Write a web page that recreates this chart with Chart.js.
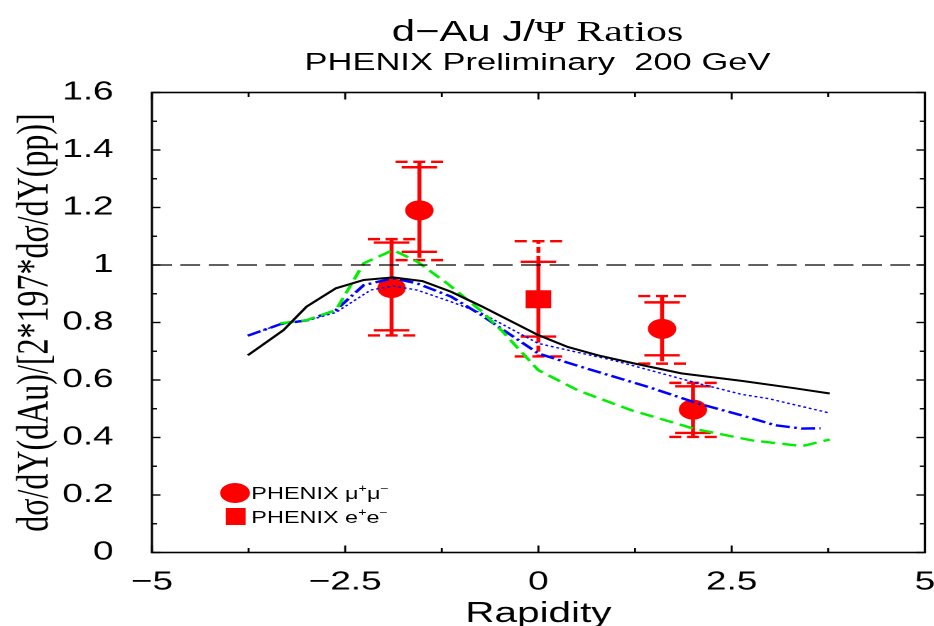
<!DOCTYPE html>
<html>
<head>
<meta charset="utf-8">
<script src="https://cdn.jsdelivr.net/npm/chart.js@4.4.1/dist/chart.umd.min.js"></script>
<style>
  html, body { margin: 0; padding: 0; background: #fff; overflow: hidden; }
  /* the reference is stretched sideways, so the whole figure is drawn narrow and widened */
  #stage {
    position: relative; width: 664px; height: 626px;
    transform: scaleX(1.42); transform-origin: 0 0;
    font-family: "Liberation Sans", Arial, sans-serif; color: #000;
  }
  #chart { position: absolute; left: 0; top: 0; width: 664px; height: 626px; }
  .title { position: absolute; left: 107px; width: 543px; text-align: center; line-height: 1; white-space: nowrap; }
  #t1 { top: 16px; font-size: 29.5px; }
  #t1 .serif { font-family: "Liberation Serif", "Times New Roman", serif; }
  #t2 { top: 50px; font-size: 24.3px; }
  .leg { position: absolute; left: 177px; font-size: 16.5px; line-height: 1; white-space: nowrap; }
  .leg sup { font-size: 10px; vertical-align: 7px; line-height: 0; }
  .mark { position: absolute; background: #f00; }
</style>
</head>
<body>
<div id="stage">
  <canvas id="chart" width="664" height="626"></canvas>
  <div class="title" id="t1">d−Au J/<span class="serif">Ψ Ratios</span></div>
  <div class="title" id="t2">PHENIX Preliminary&nbsp; 200 GeV</div>
  <div class="mark" style="left:155px; top:483px; width:21px; height:20px; border-radius:50%;"></div>
  <div class="mark" style="left:159px; top:508px; width:14px; height:17px;"></div>
  <div class="leg" style="top:485px;">PHENIX μ<sup>+</sup>μ<sup>−</sup></div>
  <div class="leg" style="top:509px;">PHENIX e<sup>+</sup>e<sup>−</sup></div>
</div>
<script>
// PHENIX mu+mu- points
const muX = [-1.9, -1.54, 1.6, 2.0];
const muY = [0.92, 1.19, 0.778, 0.497];
const muStatLo = [0.773, 1.046, 0.686, 0.416];
const muStatHi = [1.078, 1.34, 0.87, 0.578];
const muSysLo = [0.755, 1.017, 0.657, 0.402];
const muSysHi = [1.09, 1.359, 0.892, 0.59];

// PHENIX e+e- point
const eeX = [0];
const eeY = [0.881];
const eeStatLo = [0.751];
const eeStatHi = [1.011];
const eeSysLo = [0.682];
const eeSysHi = [1.083];

// theory curves
const blackX = [-3.76, -3.3, -3.0, -2.62, -2.26, -1.88, -1.5, -1.13, -0.74, 0, 0.38, 0.77, 1.25, 1.85, 2.63, 3.3, 3.77];
const blackY = [0.686, 0.773, 0.855, 0.919, 0.948, 0.957, 0.944, 0.907, 0.857, 0.756, 0.715, 0.686, 0.657, 0.623, 0.597, 0.572, 0.553];

const greenX = [-3.34, -3.0, -2.62, -2.26, -1.88, -1.57, -1.18, -0.74, -0.48, 0, 0.51, 1.2, 2.02, 2.76, 3.41, 3.77];
const greenY = [0.797, 0.808, 0.843, 1.006, 1.052, 1.012, 0.936, 0.84, 0.773, 0.634, 0.564, 0.495, 0.43, 0.39, 0.37, 0.393];

const dashDotX = [-3.76, -3.34, -2.99, -2.62, -2.26, -1.88, -1.57, -1.13, -0.74, 0, 0.55, 1.42, 2.07, 2.63, 3.06, 3.41, 3.65];
const dashDotY = [0.754, 0.794, 0.808, 0.843, 0.93, 0.954, 0.936, 0.89, 0.826, 0.692, 0.646, 0.576, 0.518, 0.477, 0.443, 0.431, 0.432];

const dottedX = [-3.76, -3.34, -2.99, -2.62, -2.17, -1.88, -1.57, -1.13, -0.74, 0, 0.99, 2.07, 2.63, 2.98, 3.77];
const dottedY = [0.754, 0.794, 0.806, 0.835, 0.913, 0.927, 0.913, 0.872, 0.833, 0.727, 0.667, 0.588, 0.55, 0.535, 0.485];

// reference line at ratio 1
const unityX = [-5, 5];
const unityY = [1, 1];

// axis ticks
const xTicks = [-5, -2.5, 0, 2.5, 5];
const xMinor = [-3.75, -1.25, 1.25, 3.75];
const yTicks = [0, 0.2, 0.4, 0.6, 0.8, 1, 1.2, 1.4, 1.6];
const yMinor = [0.1, 0.3, 0.5, 0.7, 0.9, 1.1, 1.3, 1.5];

const RED = '#ff0000';

const pts = (xs, ys) => xs.map((x, i) => ({ x: x, y: ys[i] }));

function seg(ctx, x1, y1, x2, y2) {
  ctx.beginPath();
  ctx.moveTo(x1, y1);
  ctx.lineTo(x2, y2);
  ctx.stroke();
}

// stat + syst error bars, drawn under the markers
const errorBars = {
  id: 'errorBars',
  beforeDatasetsDraw(chart) {
    const { ctx, scales: { x, y } } = chart;
    const groups = [
      [muX, muStatLo, muStatHi, muSysLo, muSysHi],
      [eeX, eeStatLo, eeStatHi, eeSysLo, eeSysHi]
    ];
    ctx.save();
    ctx.strokeStyle = RED;
    groups.forEach(([xs, lo, hi, slo, shi]) => {
      xs.forEach((xv, i) => {
        const px = x.getPixelForValue(xv);
        const pLo = y.getPixelForValue(lo[i]);
        const pHi = y.getPixelForValue(hi[i]);
        const sLo = y.getPixelForValue(slo[i]);
        const sHi = y.getPixelForValue(shi[i]);
        ctx.setLineDash([]);
        ctx.lineWidth = 2.8;
        seg(ctx, px, pLo, px, pHi);
        ctx.lineWidth = 2.4;
        seg(ctx, px - 12.5, pLo, px + 12.5, pLo);
        seg(ctx, px - 12.5, pHi, px + 12.5, pHi);
        ctx.lineWidth = 2.8;
        ctx.setLineDash([6, 3]);
        seg(ctx, px, pHi, px, sHi);
        seg(ctx, px, pLo, px, sLo);
        ctx.lineWidth = 2.4;
        ctx.setLineDash([8.5, 4]);
        seg(ctx, px - 16.75, sLo, px + 16.75, sLo);
        seg(ctx, px - 16.75, sHi, px + 16.75, sHi);
      });
    });
    ctx.restore();
  }
};

// boxed frame with inward ticks on all four sides
const frame = {
  id: 'frame',
  afterDraw(chart) {
    const { ctx, chartArea: a, scales: { x, y } } = chart;
    ctx.save();
    ctx.strokeStyle = '#000';
    ctx.lineWidth = 1.6;
    ctx.strokeRect(a.left, a.top, a.right - a.left, a.bottom - a.top);
    ctx.lineWidth = 1.4;
    const xt = (vals, len) => vals.forEach(v => {
      const px = x.getPixelForValue(v);
      seg(ctx, px, a.bottom, px, a.bottom - len);
      seg(ctx, px, a.top, px, a.top + len);
    });
    const yt = (vals, len) => vals.forEach(v => {
      const py = y.getPixelForValue(v);
      seg(ctx, a.left, py, a.left + len, py);
      seg(ctx, a.right, py, a.right - len, py);
    });
    xt(xTicks, 7);
    xt(xMinor, 4.5);
    yt(yTicks, 6);
    yt(yMinor, 3.5);
    ctx.restore();
  }
};

new Chart(document.getElementById('chart'), {
  type: 'scatter',
  data: {
    datasets: [
      {
        label: 'unity',
        data: pts(unityX, unityY),
        showLine: true,
        borderColor: '#000',
        borderWidth: 1.2,
        borderDash: [14, 6],
        pointRadius: 0
      },
      {
        label: 'calc 1',
        data: pts(blackX, blackY),
        showLine: true,
        borderColor: '#000',
        borderWidth: 2,
        pointRadius: 0
      },
      {
        label: 'calc 2',
        data: pts(greenX, greenY),
        showLine: true,
        borderColor: '#00ee00',
        borderWidth: 2.4,
        borderDash: [10, 5],
        pointRadius: 0
      },
      {
        label: 'calc 3',
        data: pts(dottedX, dottedY),
        showLine: true,
        borderColor: '#0000ff',
        borderWidth: 1.4,
        borderDash: [2, 2],
        pointRadius: 0
      },
      {
        label: 'calc 4',
        data: pts(dashDotX, dashDotY),
        showLine: true,
        borderColor: '#0000ff',
        borderWidth: 2.4,
        borderDash: [10, 3, 2, 3],
        pointRadius: 0
      },
      {
        label: 'PHENIX mu+mu-',
        data: pts(muX, muY),
        pointStyle: 'circle',
        pointRadius: 10,
        backgroundColor: RED,
        borderWidth: 0
      },
      {
        label: 'PHENIX e+e-',
        data: pts(eeX, eeY),
        pointStyle: 'rect',
        pointRadius: 12.7,
        backgroundColor: RED,
        borderWidth: 0
      }
    ]
  },
  options: {
    responsive: false,
    animation: false,
    devicePixelRatio: 2,
    layout: { padding: { top: 92.5, right: 3, bottom: 0, left: 0 } },
    plugins: {
      legend: { display: false },
      tooltip: { enabled: false }
    },
    scales: {
      x: {
        type: 'linear',
        min: -5,
        max: 5,
        afterFit: s => { s.height = 73.5; s.paddingLeft = 0; s.paddingRight = 0; },
        afterBuildTicks: s => { s.ticks = xTicks.map(v => ({ value: v })); },
        grid: { display: false },
        border: { display: false },
        ticks: {
          padding: 6,
          color: '#000',
          font: { family: 'Liberation Sans', size: 26 },
          callback: v => v === 0 ? '0' : String(v).replace('-', '\u2212')
        },
        title: {
          display: true,
          text: 'Rapidity',
          color: '#000',
          font: { family: 'Liberation Sans', size: 28.5 },
          padding: { top: 0, bottom: -5 }
        }
      },
      y: {
        type: 'linear',
        min: 0,
        max: 1.6,
        afterFit: s => { s.width = 107; },
        afterBuildTicks: s => { s.ticks = yTicks.map(v => ({ value: v })); },
        grid: { display: false },
        border: { display: false },
        ticks: {
          padding: 19,
          color: '#000',
          font: { family: 'Liberation Sans', size: 26 },
          callback: v => String(Number(v.toFixed(1)))
        },
        title: {
          display: true,
          text: 'dσ/dY(dAu)/[2*197*dσ/dY(pp)]',
          color: '#000',
          font: { family: 'Liberation Serif', size: 32 },
          padding: { top: 6, bottom: 0 }
        }
      }
    }
  },
  plugins: [errorBars, frame]
});
</script>
</body>
</html>
